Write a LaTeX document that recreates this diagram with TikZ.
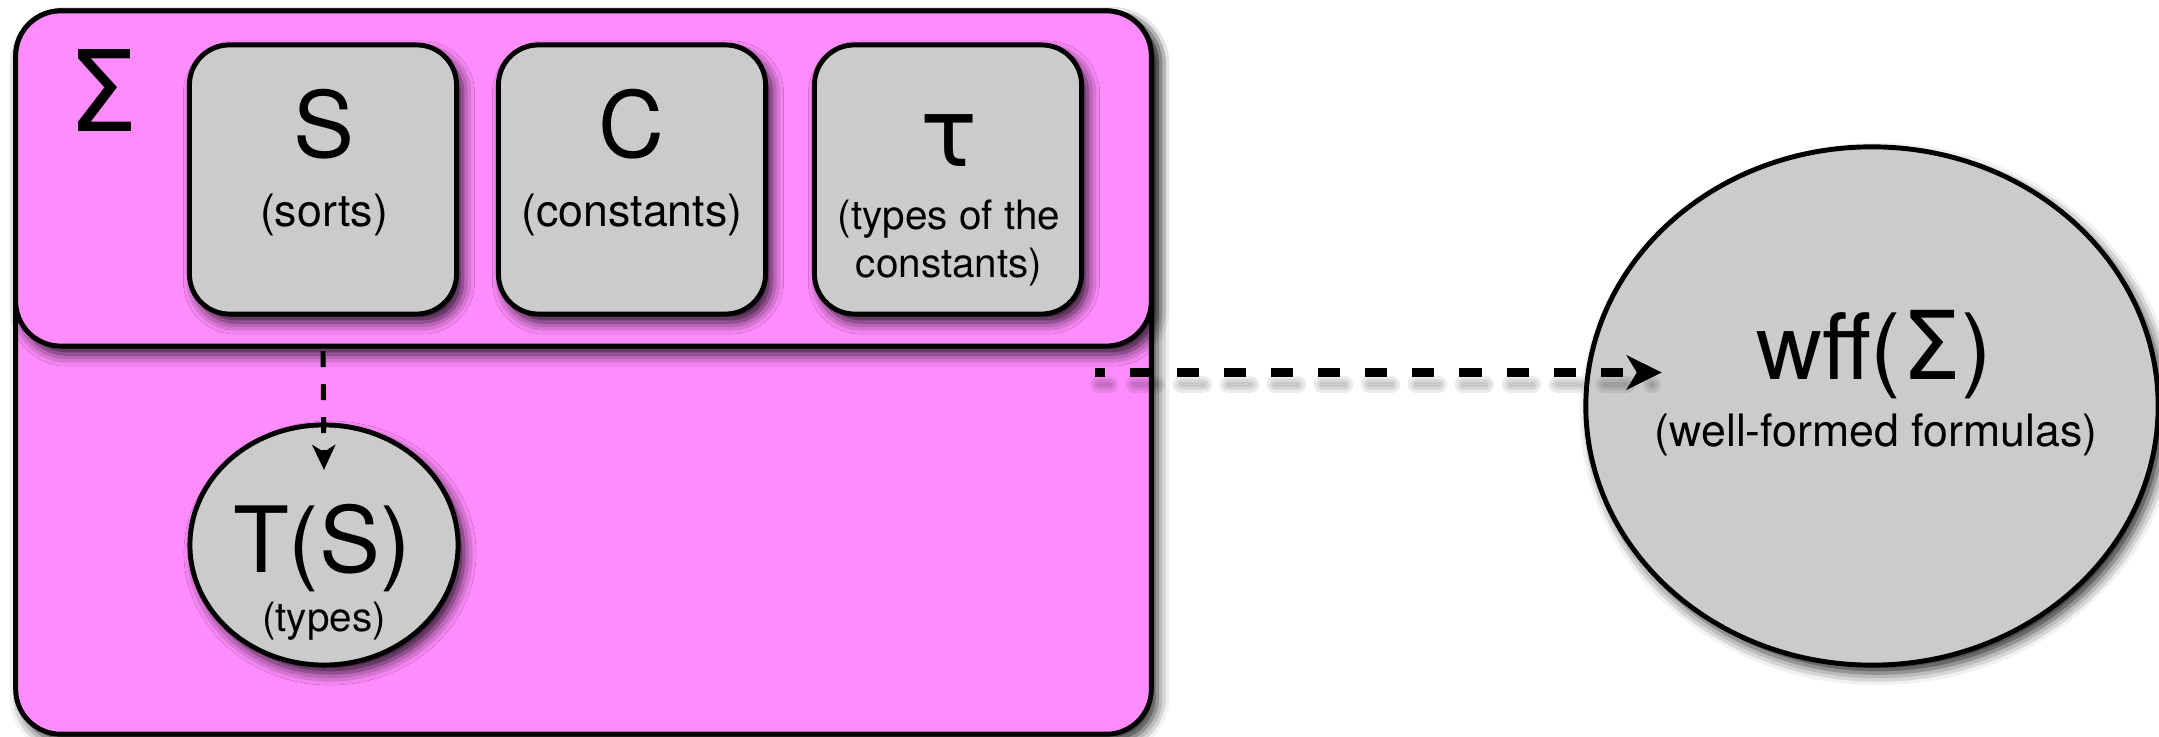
\documentclass[tikz,border=0pt]{standalone}
\usepackage{fontspec}
\setmainfont{TeX Gyre Heros}
\newfontfamily\symfont{DejaVu Sans}
\usetikzlibrary{arrows.meta,shapes.geometric,shadows.blur,calc}
\definecolor{sigpink}{RGB}{255,140,252}
\definecolor{boxgray}{RGB}{203,203,203}

\begin{document}
\begin{tikzpicture}[x=0.01cm,y=-0.01cm,
  softshadow/.style={blur shadow={shadow xshift=0.06cm, shadow yshift=-0.08cm,
      shadow blur radius=0.12cm, shadow opacity=85}},
  frame/.style={draw=black, line width=1.4pt, fill=sigpink, rounded corners=0.45cm,
      minimum width=11.35cm, inner sep=0pt, outer sep=0pt, softshadow},
  tile/.style={draw=black, line width=1.4pt, fill=boxgray, rounded corners=0.4cm,
      minimum width=2.67cm, minimum height=2.69cm, inner sep=0pt, outer sep=0pt, softshadow},
  bubble/.style={ellipse, draw=black, line width=1.4pt, fill=boxgray,
      inner sep=0pt, outer sep=0pt, softshadow},
  bigtext/.style={inner sep=0pt, anchor=base, font=\fontsize{26}{30}\selectfont},
  subtext/.style={inner sep=0pt, anchor=base, font=\fontsize{12.7}{15}\selectfont},
  smalltext/.style={inner sep=0pt, anchor=base, font=\fontsize{11.5}{14}\selectfont},
  flow/.style={line width=2.3pt, dash pattern=on 6.26pt off 7.11pt, dash phase=3.4pt,
      -{Stealth[length=0.35cm,width=0.34cm,inset=0.1cm]}},
  flowshade/.style={line width=#1, black, opacity=0.08, dash pattern=on 6.26pt off 7.11pt,
      dash phase=3.4pt, line cap=round},
  link/.style={line width=1.4pt, dash pattern=on 4.55pt off 4.84pt,
      -{Stealth[length=0.25cm,width=0.23cm,inset=0.07cm]}},
]
\useasboundingbox (0,0) rectangle (2159,737);

% signature container and its upper band
\node[frame, minimum height=7.23cm] (outer) at (583.5,372.5) {};
\node[frame, minimum height=3.35cm] (band) at (583.5,178.5) {};
\node[inner sep=0pt, anchor=base, font=\symfont\fontsize{32}{36}\selectfont] (sig) at (103,132) {Σ};

% components of the signature
\node[tile] (S) at (323,179.5) {};
\node[tile] (C) at (632,179.5) {};
\node[tile] (tau) at (948,179.5) {};

% derived sets
\node[bubble, minimum width=2.68cm, minimum height=2.40cm] (TS) at (324,545) {};
\node[bubble, minimum width=5.72cm, minimum height=5.18cm] (wff) at (1872,406) {};

% connectors
\coordinate (src) at ([xshift=-0.56cm]outer.east);
\coordinate (dst) at ($(src -| wff.west)+(76,0)$);
\foreach \w in {5pt,3.2pt,1.6pt}
  \draw[flowshade=\w] ($(src)+(4,12)$) -- ($(dst)+(-10,12)$);
\draw[flow] (src) -- (dst);
\draw[link] ([yshift=-0.37cm]S.south) -- ([yshift=-0.45cm]TS.north);

% labels
\node[bigtext] (Slbl) at (324,158) {S};
\node[subtext] (Ssub) at (324,227) {(sorts)};
\node[bigtext] (Clbl) at (632,158) {C};
\node[subtext] (Csub) at (632,227) {(constants)};
\node[inner sep=0pt, anchor=base, font=\symfont\fontsize{27}{30}\selectfont] (taulbl) at (949,167) {τ};
\node[smalltext] (tausubA) at (949,230) {(types of the};
\node[smalltext] (tausubB) at (949,278) {constants)};
\node[bigtext] (TSlbl) at (322,573) {T(S)};
\node[smalltext] (TSsub) at (324,632) {(types)};
\node[bigtext] (wfflbl) at (1874,380) {wff({\symfont\fontsize{27}{30}\selectfont Σ})};
\node[subtext] (wffsub) at (1876,447) {(well-formed formulas)};
\end{tikzpicture}
\end{document}
